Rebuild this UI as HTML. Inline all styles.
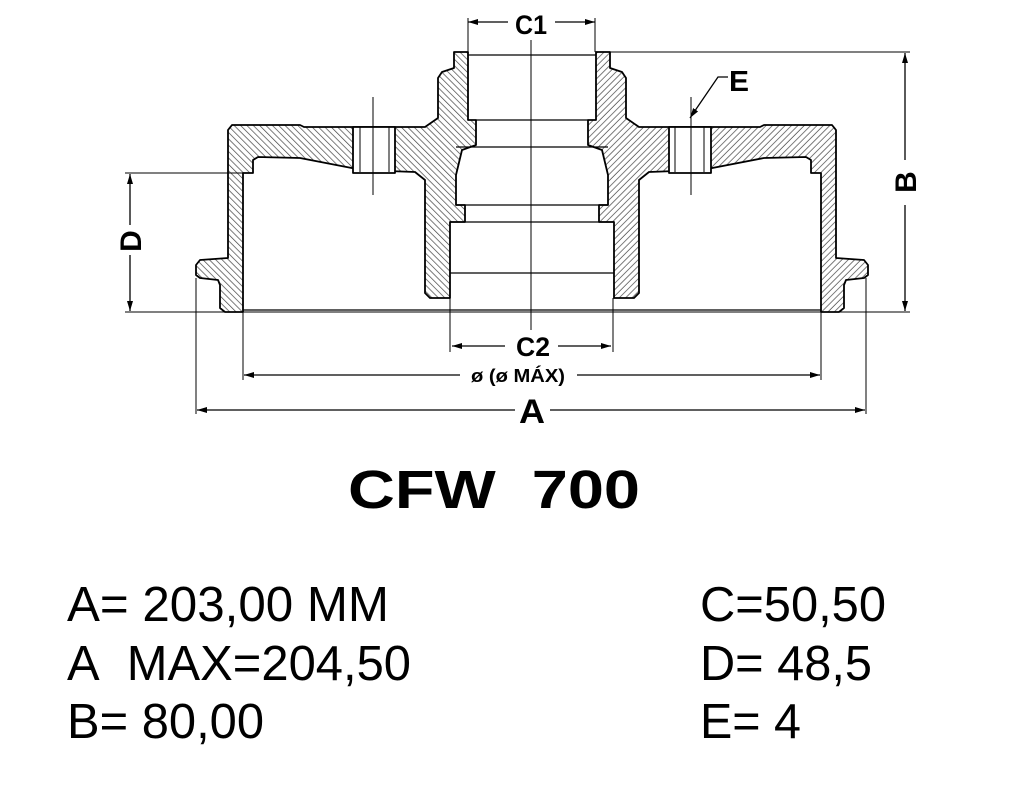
<!DOCTYPE html>
<html><head><meta charset="utf-8"><style>
html,body{margin:0;padding:0;background:#fff;}
svg{display:block;}
</style></head><body>
<svg width="1026" height="794" viewBox="0 0 1026 794" xmlns="http://www.w3.org/2000/svg">
<defs>
<pattern id="h" patternUnits="userSpaceOnUse" width="4.5" height="4.5" patternTransform="rotate(-45)">
<rect width="4.5" height="4.5" fill="#fff"/>
<line x1="0" y1="0" x2="0" y2="4.5" stroke="#444" stroke-width="1.4"/>
</pattern>
<marker id="ar" markerWidth="10" markerHeight="6" refX="10" refY="3" orient="auto" markerUnits="userSpaceOnUse">
<path d="M0,0 L10,3 L0,6 Z" fill="#000"/>
</marker>
</defs>
<g id="half" stroke="#000" stroke-width="1.8" stroke-linejoin="round">
<path fill="url(#h)" d="M468,52 L454,52 L454,68 L442,72 L438,78 L438,118 L425,127 L304,127 L300,125 L232,125 L228,130 L228,258 L200,260 L196,265 L196,275 L200,278 L218,280 L220,285 L220,308 L225,312 L243,312 L243,173 L253,173 L253,160 L258,157 L300,158 L362,170 L415,172 L425,180 L425,293 L430,298 L450,298 L450,222 L465,222 L465,205 L456,205 L456,175 L462,150 L476,145 L476,120 L468,120 Z"/>
<rect x="353" y="127" width="42" height="46" fill="#fff"/>
<line x1="360" y1="127" x2="360" y2="172" stroke-width="1"/>
<line x1="389" y1="127" x2="389" y2="172" stroke-width="1"/>
<line x1="373" y1="97" x2="373" y2="195" stroke-width="1"/>
</g>
<use href="#half" transform="translate(1064,0) scale(-1,1)"/>
<g stroke="#000" stroke-width="1.3" fill="none">
<line x1="468" y1="55" x2="596" y2="55"/>
<line x1="450" y1="273" x2="614" y2="273"/>
<line x1="243" y1="310" x2="821" y2="310"/>
<line x1="456" y1="147" x2="608" y2="147"/>
<line x1="456" y1="205" x2="608" y2="205"/>
<line x1="476" y1="120" x2="588" y2="120"/>
<line x1="450" y1="222" x2="614" y2="222"/>
<line x1="531" y1="40" x2="531" y2="330" stroke-width="1"/>
<line x1="468" y1="18" x2="468" y2="52" stroke-width="1"/>
<line x1="595" y1="18" x2="595" y2="52" stroke-width="1"/>
<line x1="610" y1="52" x2="910" y2="52" stroke-width="1"/>
<line x1="125" y1="173" x2="243" y2="173" stroke-width="1"/>
<line x1="125" y1="312" x2="910" y2="312" stroke-width="1"/>
<line x1="450" y1="298" x2="450" y2="352" stroke-width="1"/>
<line x1="613" y1="298" x2="613" y2="352" stroke-width="1"/>
<line x1="243" y1="312" x2="243" y2="380" stroke-width="1"/>
<line x1="821" y1="312" x2="821" y2="380" stroke-width="1"/>
<line x1="196" y1="278" x2="196" y2="414" stroke-width="1"/>
<line x1="866" y1="278" x2="866" y2="414" stroke-width="1"/>
<line x1="508" y1="22" x2="468" y2="22" marker-end="url(#ar)"/>
<line x1="555" y1="22" x2="595" y2="22" marker-end="url(#ar)"/>
<line x1="905" y1="160" x2="905" y2="53" marker-end="url(#ar)"/>
<line x1="905" y1="205" x2="905" y2="311" marker-end="url(#ar)"/>
<line x1="130" y1="225" x2="130" y2="174" marker-end="url(#ar)"/>
<line x1="130" y1="255" x2="130" y2="311" marker-end="url(#ar)"/>
<line x1="505" y1="346" x2="452" y2="346" marker-end="url(#ar)"/>
<line x1="558" y1="346" x2="611" y2="346" marker-end="url(#ar)"/>
<line x1="460" y1="375" x2="244" y2="375" marker-end="url(#ar)"/>
<line x1="577" y1="375" x2="820" y2="375" marker-end="url(#ar)"/>
<line x1="515" y1="410" x2="197" y2="410" marker-end="url(#ar)"/>
<line x1="550" y1="410" x2="865" y2="410" marker-end="url(#ar)"/>
<polyline points="728,77 718,77 690,118" marker-end="url(#ar)"/>
</g>
<g font-family="Liberation Sans, sans-serif" font-weight="bold" fill="#000" text-anchor="middle">
<text x="531" y="34" font-size="27" textLength="32" lengthAdjust="spacingAndGlyphs">C1</text>
<text x="533" y="356" font-size="27" textLength="34" lengthAdjust="spacingAndGlyphs">C2</text>
<text x="518" y="382" font-size="18" textLength="94" lengthAdjust="spacingAndGlyphs">ø (ø MÁX)</text>
<text x="532" y="423" font-size="34" textLength="26" lengthAdjust="spacingAndGlyphs">A</text>
<text x="739" y="91" font-size="29" textLength="20" lengthAdjust="spacingAndGlyphs">E</text>
<text transform="translate(916,182) rotate(-90)" font-size="30">B</text>
<text transform="translate(141,241) rotate(-90)" font-size="30">D</text>
<text x="494" y="508" font-size="54" textLength="292" lengthAdjust="spacingAndGlyphs" text-anchor="middle">CFW&#160;&#160;700</text>
</g>
<g font-family="Liberation Sans, sans-serif" fill="#000" font-size="49">
<text x="67" y="621" textLength="322" lengthAdjust="spacingAndGlyphs">A= 203,00 MM</text>
<text x="67" y="680" textLength="344" lengthAdjust="spacingAndGlyphs">A&#160;&#160;MAX=204,50</text>
<text x="67" y="738" textLength="197" lengthAdjust="spacingAndGlyphs">B= 80,00</text>
<text x="700" y="621" textLength="186" lengthAdjust="spacingAndGlyphs">C=50,50</text>
<text x="700" y="680" textLength="172" lengthAdjust="spacingAndGlyphs">D= 48,5</text>
<text x="700" y="738" textLength="101" lengthAdjust="spacingAndGlyphs">E= 4</text>
</g>
</svg>
</body></html>
